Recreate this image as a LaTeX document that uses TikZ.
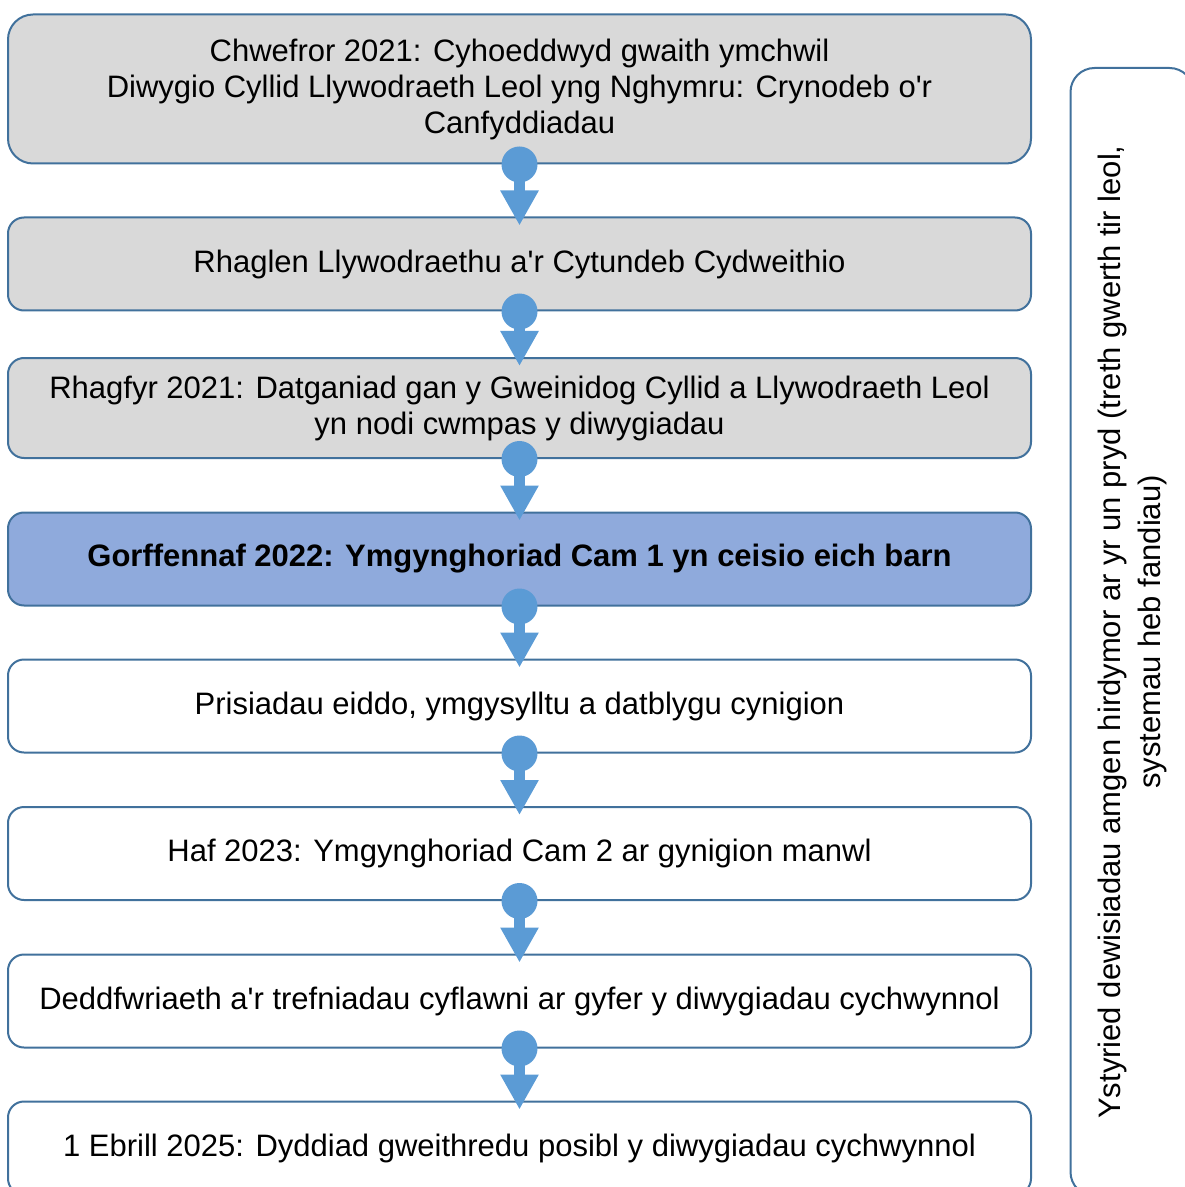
\documentclass[tikz,border=0pt]{standalone}
\usepackage{fontspec}
\setmainfont{Liberation Sans}[Ligatures=TeXOff]
\usetikzlibrary{arrows.meta}
\definecolor{boxline}{HTML}{41719C}
\definecolor{boxgrey}{HTML}{D9D9D9}
\definecolor{boxblue}{HTML}{8FAADC}
\definecolor{arrowblue}{HTML}{5B9BD5}
\begin{document}
\begin{tikzpicture}[x=0.5pt,y=0.5pt,
  stage/.style={draw=boxline, line width=1pt, rounded corners=8pt,
    minimum width=511.5pt, minimum height=46.5pt, inner sep=0pt,
    align=center, font=\fontsize{15.5}{18}\selectfont},
  done/.style={stage, fill=boxgrey},
  now/.style={stage, fill=boxblue, font=\fontsize{15.5}{18}\selectfont\bfseries},
  later/.style={stage, fill=white},
  link/.style={arrowblue, line width=5.5pt,
    -{Triangle[width=18pt,length=17.5pt]}, shorten >=-4.5pt}]
\useasboundingbox (0,0) rectangle (1184,-1187);

% the steps
\node[done, minimum height=74.5pt, rounded corners=12.5pt] (s1) at (519.5,-89)
  {Chwefror 2021: Cyhoeddwyd gwaith ymchwil\\
   Diwygio Cyllid Llywodraeth Leol yng Nghymru: Crynodeb o'r\\
   Canfyddiadau};
\node[done] (s2) at (519.5,-264) {Rhaglen Llywodraethu a'r Cytundeb Cydweithio};
\node[done, minimum height=50pt] (s3) at (519.5,-408)
  {Rhagfyr 2021: Datganiad gan y Gweinidog Cyllid a Llywodraeth Leol\\
   yn nodi cwmpas y diwygiadau};
\node[now] (s4) at (519.5,-559) {Gorffennaf 2022: Ymgynghoriad Cam 1 yn ceisio eich barn};
\node[later] (s5) at (519.5,-706) {Prisiadau eiddo, ymgysylltu a datblygu cynigion};
\node[later] (s6) at (519.5,-853.5) {Haf 2023: Ymgynghoriad Cam 2 ar gynigion manwl};
\node[later] (s7) at (519.5,-1001)
  {Deddfwriaeth a'r trefniadau cyflawni ar gyfer y diwygiadau cychwynnol};
\node[later] (s8) at (519.5,-1148)
  {1 Ebrill 2025: Dyddiad gweithredu posibl y diwygiadau cychwynnol};

% side note
\node[later, rotate=90, minimum width=564pt, minimum height=61.5pt,
  rounded corners=12pt, font=\fontsize{15.5}{20}\selectfont] (side) at (1132,-632)
  {Ystyried dewisiadau amgen hirdymor ar yr un pryd (treth gwerth tir leol,\\
   systemau heb fandiau)};

% connectors
\foreach \a/\b in {s1/s2,s2/s3,s3/s4,s4/s5,s5/s6,s6/s7,s7/s8} {
  \fill[arrowblue] (\a.south) circle (9pt);
  \draw[link] (\a.south) -- (\b.north);
}
\end{tikzpicture}
\end{document}
